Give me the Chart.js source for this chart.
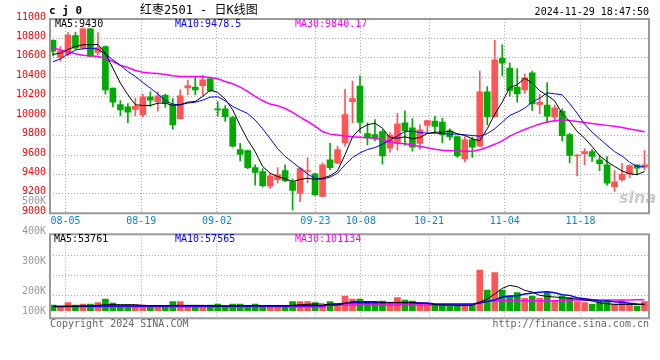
<!DOCTYPE html>
<html>
<head>
<meta charset="utf-8">
<script src="https://cdn.jsdelivr.net/npm/chart.js@4.4.1/dist/chart.umd.min.js"></script>
<style>
  body { margin: 0; background: #fff; }
  #wrap { position: relative; width: 660px; height: 360px; overflow: hidden; background: #fff; }
  canvas { position: absolute; left: 0; }
  #kline { top: 0; }
  #vol { top: 228px; }
  .t { position: absolute; font: 10px/10px "DejaVu Sans Mono", monospace; white-space: pre; }
  .vl { right: 614px; color: #999; }
</style>
</head>
<body>
<div id="wrap">
  <canvas id="kline" width="660" height="230" style="width:660px;height:230px"></canvas>
  <canvas id="vol" width="660" height="132" style="width:660px;height:132px"></canvas>

  <div class="t" style="left:49px;top:5px;font:bold 11px/11px 'DejaVu Sans Mono'">c j 0</div>
  <div class="t" style="left:140px;top:4px;font:12px/12px 'DejaVu Sans Mono','Noto Sans CJK SC'">红枣2501 - 日K线图</div>
  <div class="t" style="right:11px;top:7px">2024-11-29 18:47:50</div>

  <div class="t" style="left:55px;top:18.5px;color:#000">MA5:9430</div>
  <div class="t" style="left:175px;top:18.5px;color:#00f">MA10:9478.5</div>
  <div class="t" style="left:295px;top:18.5px;color:#f0f">MA30:9840.17</div>

  <div class="t" style="left:54px;top:233.5px;color:#000">MA5:53761</div>
  <div class="t" style="left:175px;top:233.5px;color:#00f">MA10:57565</div>
  <div class="t" style="left:295px;top:233.5px;color:#f0f">MA30:101134</div>

  <div class="t vl" style="top:195.5px">500K</div>
  <div class="t vl" style="top:226px">400K</div>
  <div class="t vl" style="top:256px">300K</div>
  <div class="t vl" style="top:286px">200K</div>
  <div class="t vl" style="top:305.5px">100K</div>

  <div class="t" style="left:50px;top:318.5px;color:#666">Copyright 2024 SINA.COM</div>
  <div class="t" style="right:11px;top:318.5px;color:#666">http://finance.sina.com.cn</div>

  <div class="t" style="left:619px;top:190px;font:italic bold 16px/16px 'DejaVu Sans';color:rgba(160,160,160,0.55)">sina</div>
</div>

<script>
// x-axis date labels and the candle index each one belongs to
const dateLabels = ["08-05", "08-19", "09-02", "09-23", "10-08", "10-21", "11-04", "11-18"];
const dateIdx = [2, 12, 22, 35, 41, 50, 60, 70];

// daily OHLC, 08-01 .. 11-29
const open = [10780, 10605, 10635, 10830, 10700, 10900, 10655, 10715, 10290, 10120,
  10095, 10070, 10015, 10200, 10150, 10215, 10120, 9975, 10290, 10300,
  10315, 10385, 10070, 10075, 9985, 9655, 9645, 9470, 9430, 9280,
  9345, 9440, 9325, 9205, 9430, 9405, 9175, 9550, 9515, 9725,
  10150, 10310, 9820, 9810, 9840, 9670, 9725, 9930, 9880, 9720,
  9905, 9950, 9940, 9850, 9790, 9560, 9760, 9690, 10250, 9995,
  10595, 10495, 10300, 10270, 10445, 10120, 10115, 9990, 10050, 9810,
  9590, 9615, 9635, 9550, 9500, 9275, 9345, 9405, 9500, 9475];
const high = [10785, 10715, 10860, 10865, 10910, 10905, 10860, 10725, 10290, 10160,
  10130, 10185, 10225, 10250, 10250, 10225, 10180, 10270, 10370, 10410,
  10420, 10400, 10150, 10110, 10000, 9720, 9650, 9500, 9460, 9410,
  9470, 9500, 9355, 9475, 9570, 9410, 9520, 9720, 9690, 10275,
  10360, 10415, 9930, 9965, 9860, 9830, 10030, 10055, 9975, 9910,
  9960, 10000, 9980, 9870, 9795, 9790, 9785, 10465, 10305, 10780,
  10735, 10550, 10490, 10435, 10465, 10225, 10345, 10115, 10075, 9825,
  9605, 9665, 9655, 9600, 9585, 9440, 9515, 9500, 9500, 9645];
const low = [10620, 10565, 10620, 10690, 10690, 10610, 10630, 10225, 10095, 10005,
  9930, 10005, 9995, 10100, 10050, 10090, 9865, 9970, 10220, 10220,
  10215, 10250, 10000, 9945, 9680, 9540, 9460, 9290, 9270, 9255,
  9310, 9325, 9035, 9120, 9315, 9185, 9170, 9450, 9510, 9690,
  9930, 9830, 9705, 9745, 9505, 9630, 9650, 9700, 9640, 9660,
  9825, 9825, 9725, 9755, 9575, 9530, 9575, 9685, 9910, 9990,
  10415, 10205, 10145, 10235, 10060, 10025, 9935, 9945, 9745, 9520,
  9385, 9500, 9535, 9440, 9290, 9225, 9330, 9365, 9395, 9450];
const close = [10670, 10672, 10835, 10700, 10900, 10615, 10705, 10270, 10145, 10065,
  10040, 10100, 10200, 10165, 10210, 10130, 9910, 10210, 10315, 10270,
  10375, 10260, 10065, 9995, 9690, 9605, 9470, 9420, 9285, 9385,
  9395, 9335, 9235, 9460, 9440, 9190, 9500, 9470, 9655, 10015,
  10180, 9935, 9775, 9775, 9590, 9805, 9920, 9850, 9680, 9860,
  9955, 9895, 9810, 9785, 9590, 9755, 9680, 10250, 9995, 10580,
  10545, 10265, 10230, 10395, 10125, 10145, 10000, 10085, 9800, 9595,
  9595, 9635, 9585, 9510, 9310, 9325, 9400, 9490, 9465, 9500];

// price moving averages as drawn
const ma5 = [10635, 10649, 10687, 10717, 10735, 10735, 10738, 10649, 10494, 10340,
  10220, 10117, 10110, 10110, 10134, 10134, 10110, 10117, 10144, 10151,
  10203, 10268, 10244, 10175, 10065, 9904, 9756, 9636, 9482, 9413,
  9379, 9355, 9327, 9348, 9361, 9348, 9361, 9386, 9437, 9602,
  9787, 9870, 9911, 9928, 9876, 9780, 9773, 9787, 9767, 9780,
  9821, 9835, 9835, 9849, 9818, 9801, 9767, 9746, 9870, 10021,
  10144, 10295, 10323, 10391, 10340, 10261, 10213, 10158, 10027, 9945,
  9842, 9773, 9688, 9592, 9533, 9482, 9437, 9407, 9398, 9430];
const ma10 = [10560, 10590, 10638, 10680, 10693, 10700, 10690, 10638, 10580, 10522,
  10460, 10408, 10347, 10288, 10230, 10158, 10124, 10117, 10134, 10144,
  10165, 10196, 10199, 10158, 10100, 10062, 10027, 9960, 9870, 9770,
  9665, 9585, 9526, 9464, 9403, 9361, 9351, 9372, 9413, 9499,
  9574, 9622, 9657, 9677, 9712, 9750, 9797, 9842, 9846, 9832,
  9825, 9825, 9821, 9815, 9815, 9808, 9801, 9794, 9821, 9870,
  9938, 10008, 10041, 10082, 10144, 10185, 10240, 10230, 10220, 10130,
  10031, 9918, 9835, 9767, 9700, 9635, 9590, 9526, 9482, 9478];
const ma30 = [10705, 10680, 10663, 10642, 10628, 10621, 10614, 10597, 10563, 10525,
  10501, 10470, 10453, 10445, 10440, 10429, 10415, 10408, 10408, 10408,
  10405, 10398, 10384, 10357, 10333, 10299, 10254, 10203, 10158, 10124,
  10108, 10079, 10038, 9990, 9945, 9897, 9842, 9815, 9805, 9795,
  9788, 9783, 9778, 9772, 9758, 9735, 9722, 9715, 9705, 9688,
  9674, 9660, 9650, 9646, 9640, 9638, 9638, 9655, 9680, 9710,
  9745, 9795, 9830, 9862, 9892, 9920, 9940, 9953, 9962, 9955,
  9945, 9935, 9925, 9915, 9905, 9895, 9882, 9868, 9855, 9840];

// volume and its moving averages
const vol = [51000, 30000, 72000, 51000, 60000, 60000, 72000, 105000, 69000, 51000,
  51000, 51000, 51000, 42000, 42000, 42000, 81000, 81000, 45000, 42000,
  42000, 51000, 60000, 42000, 60000, 60000, 42000, 60000, 42000, 42000,
  42000, 42000, 81000, 81000, 81000, 72000, 51000, 81000, 66000, 132000,
  105000, 105000, 81000, 81000, 87000, 66000, 117000, 96000, 87000, 72000,
  66000, 51000, 51000, 45000, 45000, 45000, 45000, 366000, 186000, 342000,
  186000, 132000, 162000, 111000, 132000, 111000, 162000, 90000, 132000, 117000,
  81000, 72000, 60000, 81000, 90000, 60000, 90000, 60000, 42000, 81000];
const volMa5 = [36000, 36000, 39000, 39000, 42000, 45000, 48000, 54000, 54000, 54000,
  54000, 54000, 48000, 45000, 45000, 45000, 48000, 48000, 48000, 48000,
  48000, 45000, 42000, 42000, 42000, 45000, 45000, 45000, 45000, 45000,
  45000, 45000, 48000, 54000, 57000, 60000, 60000, 51000, 51000, 66000,
  81000, 81000, 81000, 81000, 75000, 75000, 75000, 75000, 75000, 66000,
  66000, 54000, 51000, 51000, 48000, 48000, 48000, 78000, 105000, 150000,
  201000, 228000, 216000, 183000, 168000, 138000, 129000, 123000, 117000, 111000,
  105000, 96000, 87000, 72000, 63000, 57000, 57000, 57000, 57000, 54000];
const volMa10 = [39000, 39000, 39000, 39000, 39000, 39000, 39000, 42000, 42000, 42000,
  42000, 42000, 42000, 42000, 42000, 42000, 42000, 42000, 42000, 42000,
  42000, 42000, 42000, 42000, 42000, 42000, 42000, 42000, 42000, 42000,
  42000, 42000, 45000, 45000, 45000, 45000, 45000, 60000, 60000, 66000,
  72000, 72000, 72000, 72000, 72000, 72000, 72000, 72000, 72000, 69000,
  69000, 60000, 60000, 60000, 60000, 60000, 60000, 69000, 84000, 96000,
  123000, 132000, 135000, 150000, 159000, 165000, 171000, 162000, 144000, 138000,
  117000, 108000, 99000, 90000, 87000, 81000, 75000, 66000, 60000, 57000];
const volMa30 = [36000, 36000, 36000, 36000, 36000, 36000, 36000, 36000, 36000, 36000,
  36000, 36000, 36000, 36000, 36000, 36000, 36000, 36000, 36000, 36000,
  36000, 36000, 36000, 36000, 36000, 36000, 36000, 36000, 36000, 36000,
  36000, 36000, 36000, 36000, 36000, 36000, 36000, 51000, 51000, 51000,
  51000, 51000, 51000, 51000, 51000, 51000, 51000, 51000, 51000, 51000,
  51000, 51000, 51000, 51000, 51000, 51000, 51000, 75000, 84000, 90000,
  90000, 90000, 90000, 90000, 90000, 90000, 90000, 90000, 90000, 96000,
  96000, 96000, 96000, 96000, 96000, 96000, 96000, 97000, 98000, 99000];

const UP = "#ff5555";
const DOWN = "#00aa00";
const GRID = "#aaa";
const MONO = "DejaVu Sans Mono";

Chart.defaults.font.family = MONO;
Chart.defaults.font.size = 10;

const candleColors = open.map((o, i) => (close[i] >= o ? UP : DOWN));
const xy = (arr) => arr.map((v, i) => ({ x: i, y: v }));

// date grid lines drift slightly against the candle slots on the original
const dateTicks = (scale) => {
  scale.ticks = dateIdx.map((i) => ({ value: i * 1.0114 - 0.35 }));
};

// grey box round each plot area
const frame = {
  id: "frame",
  afterDraw(chart) {
    const { ctx, chartArea: a } = chart;
    ctx.save();
    ctx.strokeStyle = "#999";
    ctx.lineWidth = 2;
    ctx.strokeRect(a.left, a.top, a.right - a.left, a.bottom - a.top);
    ctx.restore();
  },
};

function maLine(label, data, color, width) {
  return {
    type: "line",
    label,
    data: xy(data),
    borderColor: color,
    borderWidth: width,
    pointRadius: 0,
    tension: 0,
    order: 1,
  };
}

// price panel
new Chart(document.getElementById("kline"), {
  type: "bar",
  data: {
    datasets: [
      maLine("MA5", ma5, "#000", 1),
      maLine("MA10", ma10, "#0000ff", 1),
      maLine("MA30", ma30, "#ff00ff", 1.5),
      {
        label: "body",
        data: open.map((o, i) => ({ x: i, y: [o, close[i]] })),
        backgroundColor: candleColors,
        barThickness: 6,
        minBarLength: 1,
        grouped: false,
        order: 4,
      },
      {
        label: "wick",
        data: low.map((l, i) => ({ x: i, y: [l, high[i]] })),
        backgroundColor: candleColors,
        barThickness: 1,
        grouped: false,
        order: 5,
      },
    ],
  },
  options: {
    responsive: false,
    animation: false,
    devicePixelRatio: 1,
    layout: { padding: { top: 19, right: 11, left: 0, bottom: 0 } },
    plugins: { legend: { display: false }, tooltip: { enabled: false } },
    scales: {
      x: {
        type: "linear",
        min: -0.4,
        max: 79.6,
        offset: false,
        afterBuildTicks: dateTicks,
        afterFit: (s) => { s.height = 16.7; },
        ticks: {
          callback: (v, k) => dateLabels[k],
          color: "#0a84d6",
          padding: 2,
          maxRotation: 0,
          autoSkip: false,
        },
        grid: { color: GRID, drawTicks: false, offset: false },
        border: { display: false, dash: [1, 2] },
      },
      y: {
        min: 9000,
        max: 11000,
        afterFit: (s) => { s.width = 50; },
        ticks: {
          stepSize: 200,
          color: "#ff0000",
          padding: 4,
          labelOffset: -2,
          callback: (v) => String(v),
        },
        grid: { color: GRID, drawTicks: false },
        border: { display: false, dash: [1, 2] },
      },
    },
  },
  plugins: [frame],
});

// volume panel
new Chart(document.getElementById("vol"), {
  type: "bar",
  data: {
    datasets: [
      maLine("MA5", volMa5, "#000", 1),
      maLine("MA10", volMa10, "#0000ff", 1.5),
      maLine("MA30", volMa30, "#ff00ff", 1.5),
      {
        label: "volume",
        data: xy(vol),
        backgroundColor: candleColors,
        barThickness: 6,
        order: 4,
      },
    ],
  },
  options: {
    responsive: false,
    animation: false,
    devicePixelRatio: 1,
    layout: { padding: { top: 6.3, right: 11, left: 0, bottom: 41.7 } },
    plugins: { legend: { display: false }, tooltip: { enabled: false } },
    scales: {
      x: {
        type: "linear",
        min: -0.4,
        max: 79.6,
        offset: false,
        afterBuildTicks: dateTicks,
        afterFit: (s) => { s.height = 0; },
        ticks: { display: false },
        grid: { color: GRID, drawTicks: false, offset: false },
        border: { display: false, dash: [1, 2] },
      },
      y: {
        min: -68400,
        max: 687600,
        afterBuildTicks: (s) => {
          s.ticks = [135000, 321000, 501000].map((v) => ({ value: v }));
        },
        afterFit: (s) => { s.width = 50; },
        ticks: { display: false },
        grid: { color: GRID, drawTicks: false },
        border: { display: false, dash: [1, 2] },
      },
    },
  },
  plugins: [frame],
});
</script>
</body>
</html>
